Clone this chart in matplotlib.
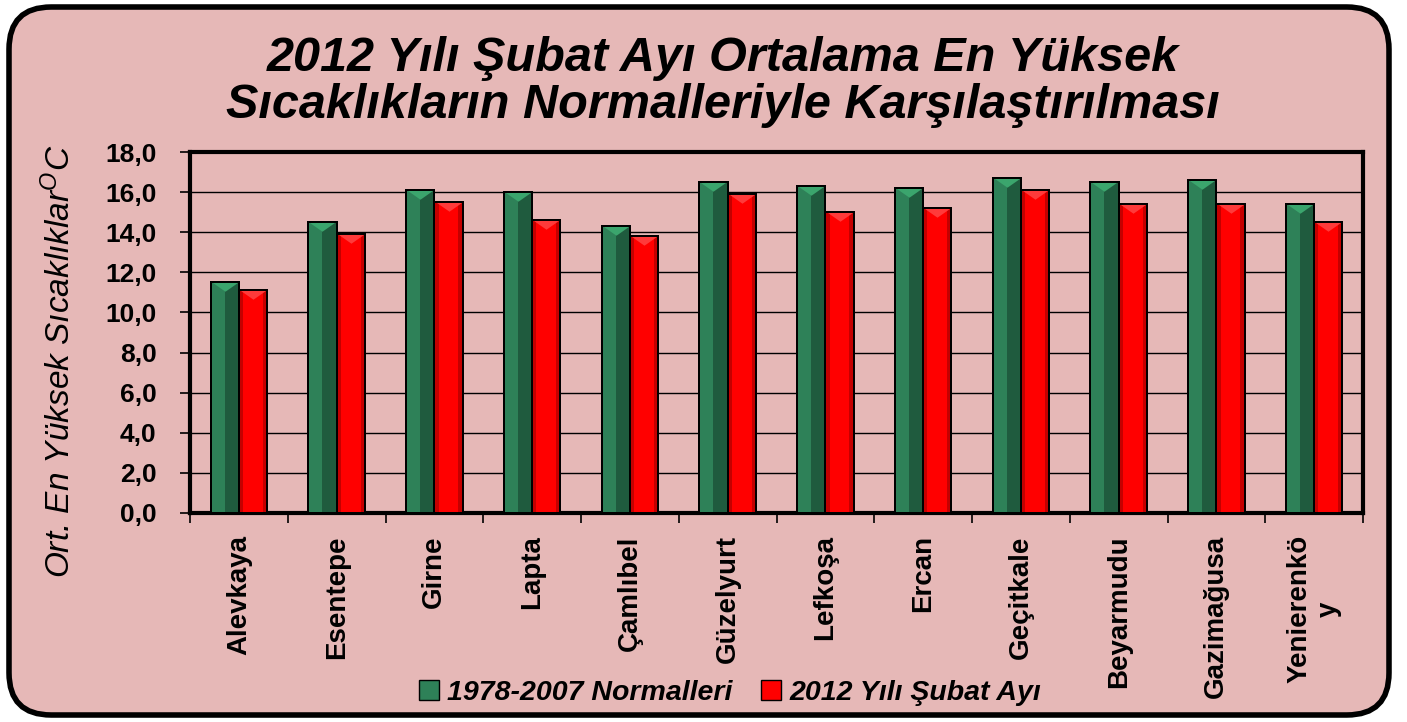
import numpy as np
import matplotlib
matplotlib.use("Agg")
import matplotlib.pyplot as plt
from matplotlib.patches import FancyBboxPatch, Patch
from matplotlib.path import Path

plt.rcParams['font.family'] = ['Liberation Sans', 'DejaVu Sans']
plt.rcParams['mathtext.fontset'] = 'custom'
plt.rcParams['mathtext.rm'] = 'Liberation Sans'
plt.rcParams['mathtext.it'] = 'Liberation Sans:italic'

# data
stations = ["Alevkaya", "Esentepe", "Girne", "Lapta", "Çamlıbel", "Güzelyurt",
            "Lefkoşa", "Ercan", "Geçitkale", "Beyarmudu", "Gazimağusa", "Yenierenkö\ny"]
normals = [11.5, 14.5, 16.1, 16.0, 14.3, 16.5, 16.3, 16.2, 16.7, 16.5, 16.6, 15.4]
feb2012 = [11.1, 13.9, 15.5, 14.6, 13.8, 15.9, 15.0, 15.2, 16.1, 15.4, 15.4, 14.5]

series_labels = ["1978-2007 Normalleri", "2012 Yılı Şubat Ayı"]
title = "2012 Yılı Şubat Ayı Ortalama En Yüksek\nSıcaklıkların Normalleriyle Karşılaştırılması"

pink = "#E6B8B7"
green, green_dark, green_top = "#2E8158", "#1F5B3E", "#3BA56D"
red, red_dark, red_top = "#FF0000", "#C40000", "#FF3A3A"

fig = plt.figure(figsize=(14.07, 7.22), dpi=100)
fig.patch.set_facecolor("white")

# rounded pink frame
frame = FancyBboxPatch((9 / 1407, 7 / 722), 1380 / 1407, 708 / 722,
                       boxstyle="round,pad=0,rounding_size=0.03",
                       transform=fig.transFigure, facecolor=pink,
                       edgecolor="black", linewidth=4, mutation_aspect=1407 / 722,
                       zorder=-10)
fig.patches.append(frame)

ax = fig.add_axes([190 / 1407, 209 / 722, 1173 / 1407, 361 / 722])
ax.set_facecolor(pink)

x = np.arange(len(stations))
w = 0.29

# green bars with bevel
ax.bar(x - w / 2, normals, w, color=green, edgecolor="black", linewidth=1.4, zorder=3)
ax.bar(x - w / 4, normals, w / 2, color=green_dark, linewidth=0, zorder=3.5)
ax.bar(x - w / 2, normals, w, color="none", edgecolor="black", linewidth=1.4, zorder=4)
# red bars with darker edges
ax.bar(x + w / 2, feb2012, w, color=red_dark, edgecolor="black", linewidth=1.4, zorder=3)
ax.bar(x + w / 2, feb2012, w * 0.7, color=red, linewidth=0, zorder=3.5)
ax.bar(x + w / 2, feb2012, w, color="none", edgecolor="black", linewidth=1.4, zorder=4)

# triangular highlights on bar tops
tri = Path([(-1, 0), (1, 0), (0, -0.7), (-1, 0)],
           [Path.MOVETO, Path.LINETO, Path.LINETO, Path.CLOSEPOLY])
ax.scatter(x - w / 2, normals, marker=tri, s=360, color=green_top, linewidths=0, zorder=3.8)
ax.scatter(x + w / 2, feb2012, marker=tri, s=360, color=red_top, linewidths=0, zorder=3.8)

ax.set_xlim(-0.5, len(stations) - 0.5)
ax.set_ylim(0, 18)
ax.set_yticks(np.arange(0, 18.1, 2))
ax.set_yticklabels([f"{v:.1f}".replace(".", ",") for v in np.arange(0, 18.1, 2)])
ax.yaxis.grid(True, color="black", linewidth=1.0, zorder=1)
ax.set_axisbelow(True)

ax.set_xticks(x)
ax.set_xticklabels(stations, rotation=90, va="top", ha="center", multialignment="center",
                   fontsize=20, fontweight="bold")
ax.set_xticks(np.arange(-0.5, len(stations)), minor=True)
ax.tick_params(axis="x", which="major", length=0, pad=16)
ax.tick_params(axis="x", which="minor", length=7, width=1.2, direction="out")
ax.tick_params(axis="y", length=7, width=1.2, direction="out", labelsize=19, pad=17)
for lab in ax.get_yticklabels():
    lab.set_fontweight("bold")

for s in ax.spines.values():
    s.set_linewidth(3)
    s.set_color("black")

fig.text(723 / 1407, 1 - 82 / 722, title, ha="center", va="center", fontsize=35,
         fontweight="bold", fontstyle="italic", linespacing=1.05)

fig.text(60 / 1407, 1 - 361 / 722, "Ort. En Yüksek Sıcaklıklar$^{O}$C", rotation=90,
         ha="center", va="center", fontsize=24, fontstyle="italic")

handles = [Patch(facecolor=green, edgecolor="black"), Patch(facecolor=red, edgecolor="black")]
leg = fig.legend(handles, series_labels, loc="center", bbox_to_anchor=(730 / 1407, 1 - 693 / 722),
                 ncol=2, frameon=False, handlelength=0.7, handleheight=0.7,
                 handletextpad=0.3, columnspacing=1.0,
                 prop={"size": 20.5, "weight": "bold", "style": "italic"})

fig.savefig("out.png", dpi=100, facecolor="white")
